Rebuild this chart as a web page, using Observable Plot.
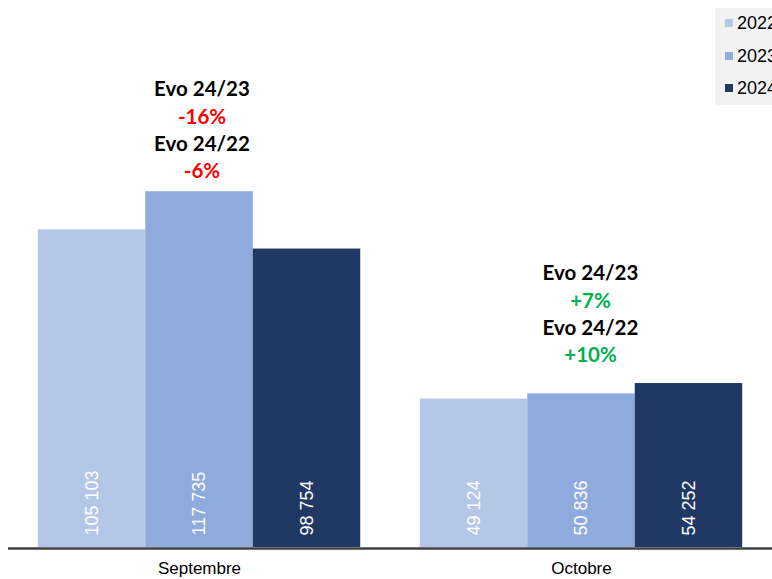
<!DOCTYPE html>
<html>
<head>
<meta charset="utf-8">
<script src="https://cdn.jsdelivr.net/npm/d3@7"></script>
<script src="https://cdn.jsdelivr.net/npm/@observablehq/plot@0.6"></script>
<style>
  html, body { margin: 0; padding: 0; overflow: hidden; background: #fff; }
  #wrap { position: relative; width: 772px; height: 579px; }
  #legend { position: absolute; left: 715px; top: 8px; width: 90px; height: 97px; background: #f2f2f2;
    font-family: Arial, "Liberation Sans", sans-serif; font-size: 18px; color: #000; }
  .item { position: absolute; left: 10px; display: flex; align-items: center; white-space: nowrap; line-height: 20px; }
  .sw { width: 8px; height: 8px; margin-right: 4px; }
</style>
</head>
<body>
<div id="wrap">
  <div id="chart"></div>
  <div id="legend"></div>
</div>
<script>
const months = ["Septembre", "Octobre"];
const years = ["2022", "2023", "2024"];
const values2022 = [105103, 49124];
const values2023 = [117735, 50836];
const values2024 = [98754, 54252];
const colors = ["#b4c7e7", "#8faadc", "#203864"];
const evoTitles = ["Evo 24/23", "Evo 24/22"];
const evo2423 = ["-16%", "+7%"];
const evo2422 = ["-6%", "+10%"];

const series = [values2022, values2023, values2024];
const data = months.flatMap((m, i) => years.map((y, j) => ({month: m, year: y, value: series[j][i]})));

const fmt = d3.formatLocale({decimal: ",", thousands: " ", grouping: [3], currency: ["", ""]}).format(",");

// annotation placement styles (per month)
const annoStyle = {Septembre: {dx: 2.5, dy: -20}, Octobre: {dx: 9, dy: -28}};
const lineStep = 27.3;

const annoMarks = months.flatMap((m, i) => {
  const row = [{month: m, year: "2023", value: d3.max(series, s => s[i])}];
  const lines = [evoTitles[0], evo2423[i], evoTitles[1], evo2422[i]];
  return lines.map((t, k) => Plot.text(row, {
    fx: "month", x: "year", y: "value",
    text: () => t,
    dx: annoStyle[m].dx,
    dy: annoStyle[m].dy - (3 - k) * lineStep,
    fill: k % 2 === 0 ? "#000" : (t.startsWith("-") ? "#ff0000" : "#00b050"),
    fontFamily: "Lato, 'Open Sans', sans-serif",
    fontWeight: "bold",
    fontSize: 20.5
  }));
});

const chart = Plot.plot({
  width: 772,
  height: 579,
  marginTop: 3,
  marginBottom: 32,
  marginLeft: 8,
  marginRight: 0,
  fx: {domain: months, padding: 0, axis: "bottom", label: null, tickSize: 0, tickPadding: 14},
  x: {domain: years, axis: null, paddingInner: 0, paddingOuter: 0.277, round: false},
  y: {domain: [0, 180000], axis: null},
  color: {domain: years, range: colors},
  style: {fontFamily: "Arial, 'Liberation Sans', sans-serif", fontSize: "17px", color: "#000", background: "transparent", overflow: "visible"},
  marks: [
    Plot.barY(data, {fx: "month", x: "year", y: "value", fill: "year"}),
    Plot.text(data, {fx: "month", x: "year", y: 0, text: d => fmt(d.value), rotate: -90, textAnchor: "start",
      dy: -12, fill: "white", fontSize: 18, fontFamily: "Arial, 'Liberation Sans', sans-serif"}),
    Plot.ruleY([0], {stroke: "#404040", strokeWidth: 2.5, dy: 1}),
    ...annoMarks
  ]
});
document.getElementById("chart").appendChild(chart);

const legend = document.getElementById("legend");
years.forEach((y, j) => {
  const it = document.createElement("div");
  it.className = "item";
  it.style.top = (5 + j * 32.5) + "px";
  it.innerHTML = `<span class="sw" style="background:${colors[j]}"></span><span>${y}</span>`;
  legend.appendChild(it);
});
</script>
</body>
</html>
